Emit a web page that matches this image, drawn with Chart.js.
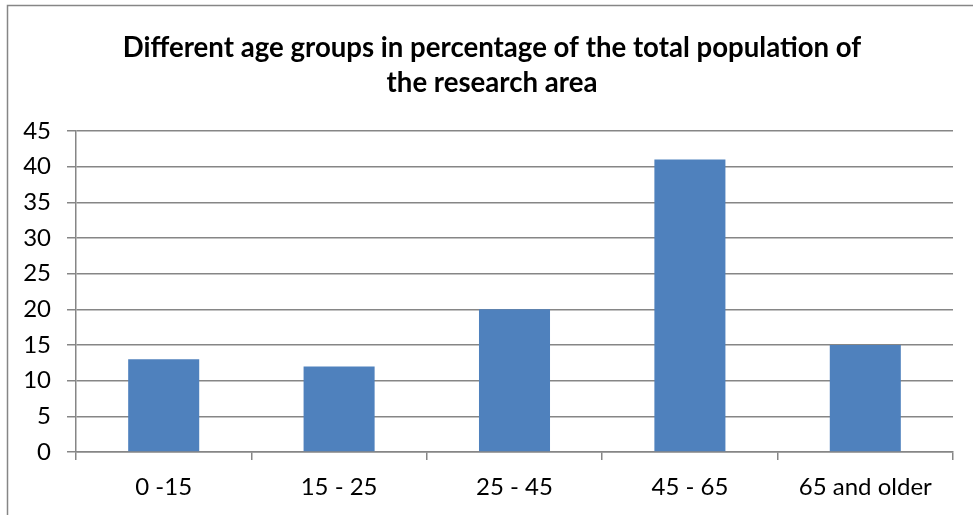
<!DOCTYPE html>
<html>
<head>
<meta charset="utf-8">
<script src="https://cdn.jsdelivr.net/npm/chart.js@4.4.0/dist/chart.umd.min.js"></script>
<style>
  html, body { margin: 0; padding: 0; background: #fff; }
  #wrap { width: 973px; height: 515px; position: relative; }
</style>
</head>
<body>
<div id="wrap"><canvas id="c" width="973" height="515"></canvas></div>
<script>
const categories = ["0 -15", "15 - 25", "25 - 45", "45 - 65", "65 and older"];
const values = [13, 12, 20, 41, 15];
const titleLines = ["Different age groups in percentage of the total population of", "the research area"];
const yMin = 0, yMax = 45, yStep = 5;

const borderPlugin = {
  id: 'outerBorder',
  afterLayout(chart) {
    if (chart.titleBlock) {
      chart.titleBlock.left = 31;
      chart.titleBlock.width = chart.titleBlock.right - 31;
    }
  },
  afterDraw(chart) {
    const ctx = chart.ctx;
    ctx.save();
    ctx.strokeStyle = '#868686';
    ctx.lineWidth = 1.5;
    ctx.strokeRect(7.5, 5.5, 1000, 600);
    ctx.restore();
  }
};

new Chart(document.getElementById('c'), {
  type: 'bar',
  data: {
    labels: categories,
    datasets: [{
      data: values,
      backgroundColor: '#4F81BD',
      borderWidth: 0,
      barPercentage: 0.405,
      categoryPercentage: 1.0
    }]
  },
  options: {
    responsive: false,
    animation: false,
    devicePixelRatio: 1,
    layout: { padding: { left: 0, right: 20, top: 0, bottom: 0 } },
    plugins: {
      legend: { display: false },
      tooltip: { enabled: false },
      title: {
        display: true,
        text: titleLines,
        color: '#000',
        font: { family: 'Lato', size: 27.6, weight: 'bold', lineHeight: 1.28 },
        padding: { top: 30, bottom: 30.3 }
      }
    },
    scales: {
      x: {
        offset: true,
        grid: {
          display: true,
          drawOnChartArea: false,
          drawTicks: true,
          tickLength: 8,
          color: '#868686',
          lineWidth: 1.5,
          offset: true
        },
        border: { display: true, color: '#868686', width: 1.5 },
        ticks: {
          color: '#000',
          font: { family: 'Lato', size: 24 },
          padding: 13,
          maxRotation: 0
        },
        afterFit(scale) { scale.height = 63; }
      },
      y: {
        min: yMin,
        max: yMax,
        grid: {
          color: '#868686',
          lineWidth: 1.5,
          tickLength: 9,
          drawTicks: true
        },
        border: { display: true, color: '#868686', width: 1.5 },
        ticks: {
          stepSize: yStep,
          color: '#000',
          font: { family: 'Lato', size: 24 },
          padding: 16
        },
        afterFit(scale) { scale.width = 76; }
      }
    }
  },
  plugins: [borderPlugin]
});
</script>
</body>
</html>
